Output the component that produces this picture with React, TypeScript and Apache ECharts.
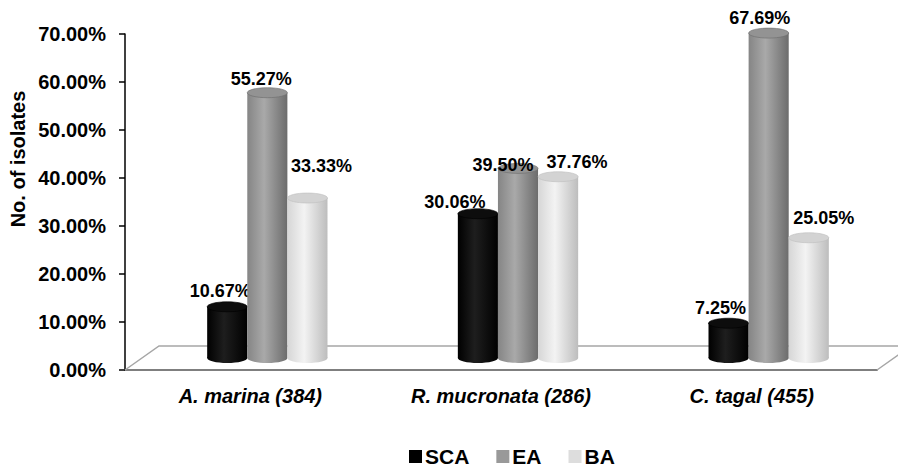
import React, { useEffect, useRef } from "react";
import * as echarts from "echarts";

// Share of isolates per mangrove host (sample size in brackets)
const CATEGORIES = ["A. marina (384)", "R. mucronata (286)", "C. tagal (455)"];
const SERIES_NAMES = ["SCA", "EA", "BA"];
const SCA_VALUES = [10.67, 30.06, 7.25];
const EA_VALUES = [55.27, 39.5, 67.69];
const BA_VALUES = [33.33, 37.76, 25.05];
const Y_MIN = 0;
const Y_MAX = 70;
const Y_STEP = 10;

const FONT = "'Liberation Sans', Arial, sans-serif";

// cylinder shading: [edge-left, highlight, edge-right], cap colour, legend swatch
const PALETTES = [
  { stops: ["#000000", "#1e1e1e", "#000000"], cap: "#0d0d0d", legend: "#000000" },
  { stops: ["#858585", "#a9a9a9", "#6c6c6c"], cap: "#939393", legend: "#999999" },
  { stops: ["#d6d6d6", "#f3f3f3", "#bdbdbd"], cap: "#d3d3d3", legend: "#dddddd" },
];

// label nudges (px) from each cylinder's top cap centre, [series][category]
const LABEL_NUDGE = [
  [[-7, -16], [-23, -12], [-8, -15]],
  [[-6, -14], [-15, -3], [-9, -15]],
  [[14, -32], [19, -15], [15, -20]],
];

const DEPTH_X = 34; // floor depth, horizontal
const DEPTH_Y = 24; // floor depth, vertical

function cylinderRenderer(seriesIdx: number) {
  const pal = PALETTES[seriesIdx];
  return (params: any, api: any) => {
    const cat = api.value(0);
    const v = api.value(1);
    const base = api.coord([cat, 0]);
    const top = api.coord([cat, v]);
    const band = api.size([1, 0])[0];
    const w = band * 0.16;
    const cx = base[0] + DEPTH_X / 2 + (seriesIdx - 1) * w;
    const yb = base[1] - DEPTH_Y / 2;
    const yt = top[1] - DEPTH_Y / 2;
    const rx = w / 2;
    const ry = 5;
    const grad = new echarts.graphic.LinearGradient(0, 0, 1, 0, [
      { offset: 0, color: pal.stops[0] },
      { offset: 0.42, color: pal.stops[1] },
      { offset: 1, color: pal.stops[2] },
    ]);
    const nudge = LABEL_NUDGE[seriesIdx][params.dataIndex];
    return {
      type: "group",
      children: [
        { type: "ellipse", shape: { cx, cy: yb, rx, ry }, style: { fill: grad } },
        { type: "rect", shape: { x: cx - rx, y: yt, width: w, height: yb - yt }, style: { fill: grad } },
        {
          type: "ellipse",
          shape: { cx, cy: yt, rx, ry },
          style: { fill: pal.cap, stroke: pal.stops[2], lineWidth: 0.6 },
        },
        {
          type: "text",
          x: cx + nudge[0],
          y: yt + nudge[1],
          style: {
            text: v.toFixed(2) + "%",
            fill: "#000",
            font: `bold 18px ${FONT}`,
            align: "center",
            verticalAlign: "middle",
          },
        },
      ],
    };
  };
}

function floorRenderer(params: any) {
  const cs = params.coordSys;
  const x0 = cs.x;
  const x1 = cs.x + cs.width;
  const y0 = cs.y + cs.height;
  const y1 = y0 - DEPTH_Y;
  return {
    type: "polyline",
    silent: true,
    shape: {
      points: [
        [x0, y0],
        [x0 + DEPTH_X, y1],
        [x1 + DEPTH_X, y1],
        [x1, y0],
      ],
    },
    style: { stroke: "#a6a6a6", lineWidth: 1.5, fill: "none" },
  };
}

export default function App() {
  const ref = useRef<HTMLDivElement>(null);

  useEffect(() => {
    if (!ref.current) return;
    const chart = echarts.init(ref.current, null, { renderer: "svg" });
    const values = [SCA_VALUES, EA_VALUES, BA_VALUES];

    chart.setOption({
      animation: false,
      backgroundColor: "#ffffff",
      grid: { left: 125, right: 21, top: 34, bottom: 97 },
      legend: {
        data: SERIES_NAMES,
        left: 409,
        top: 446,
        padding: 0,
        icon: "rect",
        itemWidth: 13,
        itemHeight: 13,
        itemGap: 27,
        textStyle: { fontFamily: FONT, fontWeight: "bold", fontSize: 21, color: "#000", padding: [0, 0, 0, -2] },
      },
      xAxis: {
        type: "category",
        data: CATEGORIES,
        axisLine: { lineStyle: { color: "#7f7f7f", width: 2 } },
        axisTick: { show: false },
        axisLabel: {
          margin: 16,
          fontFamily: FONT,
          fontWeight: "bold",
          fontStyle: "italic",
          fontSize: 20,
          color: "#000",
        },
        splitLine: { show: false },
      },
      yAxis: {
        type: "value",
        min: Y_MIN,
        max: Y_MAX,
        interval: Y_STEP,
        axisLine: { show: true, lineStyle: { color: "#000", width: 1.5 } },
        axisTick: { show: true, length: 6, lineStyle: { color: "#000", width: 1.5 } },
        axisLabel: {
          margin: 19,
          fontFamily: FONT,
          fontWeight: "bold",
          fontSize: 20,
          color: "#000",
          formatter: (v: number) => v.toFixed(2) + "%",
        },
        splitLine: { show: false },
      },
      graphic: [
        {
          type: "text",
          x: 18,
          y: 159,
          rotation: Math.PI / 2,
          style: {
            text: "No. of isolates",
            font: `bold 20px ${FONT}`,
            fill: "#000",
            align: "center",
            verticalAlign: "middle",
          },
        },
      ],
      series: [
        {
          type: "custom",
          name: "floor",
          silent: true,
          z: 1,
          renderItem: floorRenderer,
          data: [[0, 0]],
        },
        ...SERIES_NAMES.map((name, i) => ({
          type: "custom",
          name,
          z: 2 + i,
          itemStyle: { color: PALETTES[i].legend },
          renderItem: cylinderRenderer(i),
          encode: { x: 0, y: 1 },
          data: CATEGORIES.map((_, c) => [c, values[i][c]]),
        })),
      ],
    });

    return () => chart.dispose();
  }, []);

  return (
    <div
      ref={ref}
      style={{ position: "fixed", left: 0, top: 0, width: 898, height: 467 }}
    />
  );
}
